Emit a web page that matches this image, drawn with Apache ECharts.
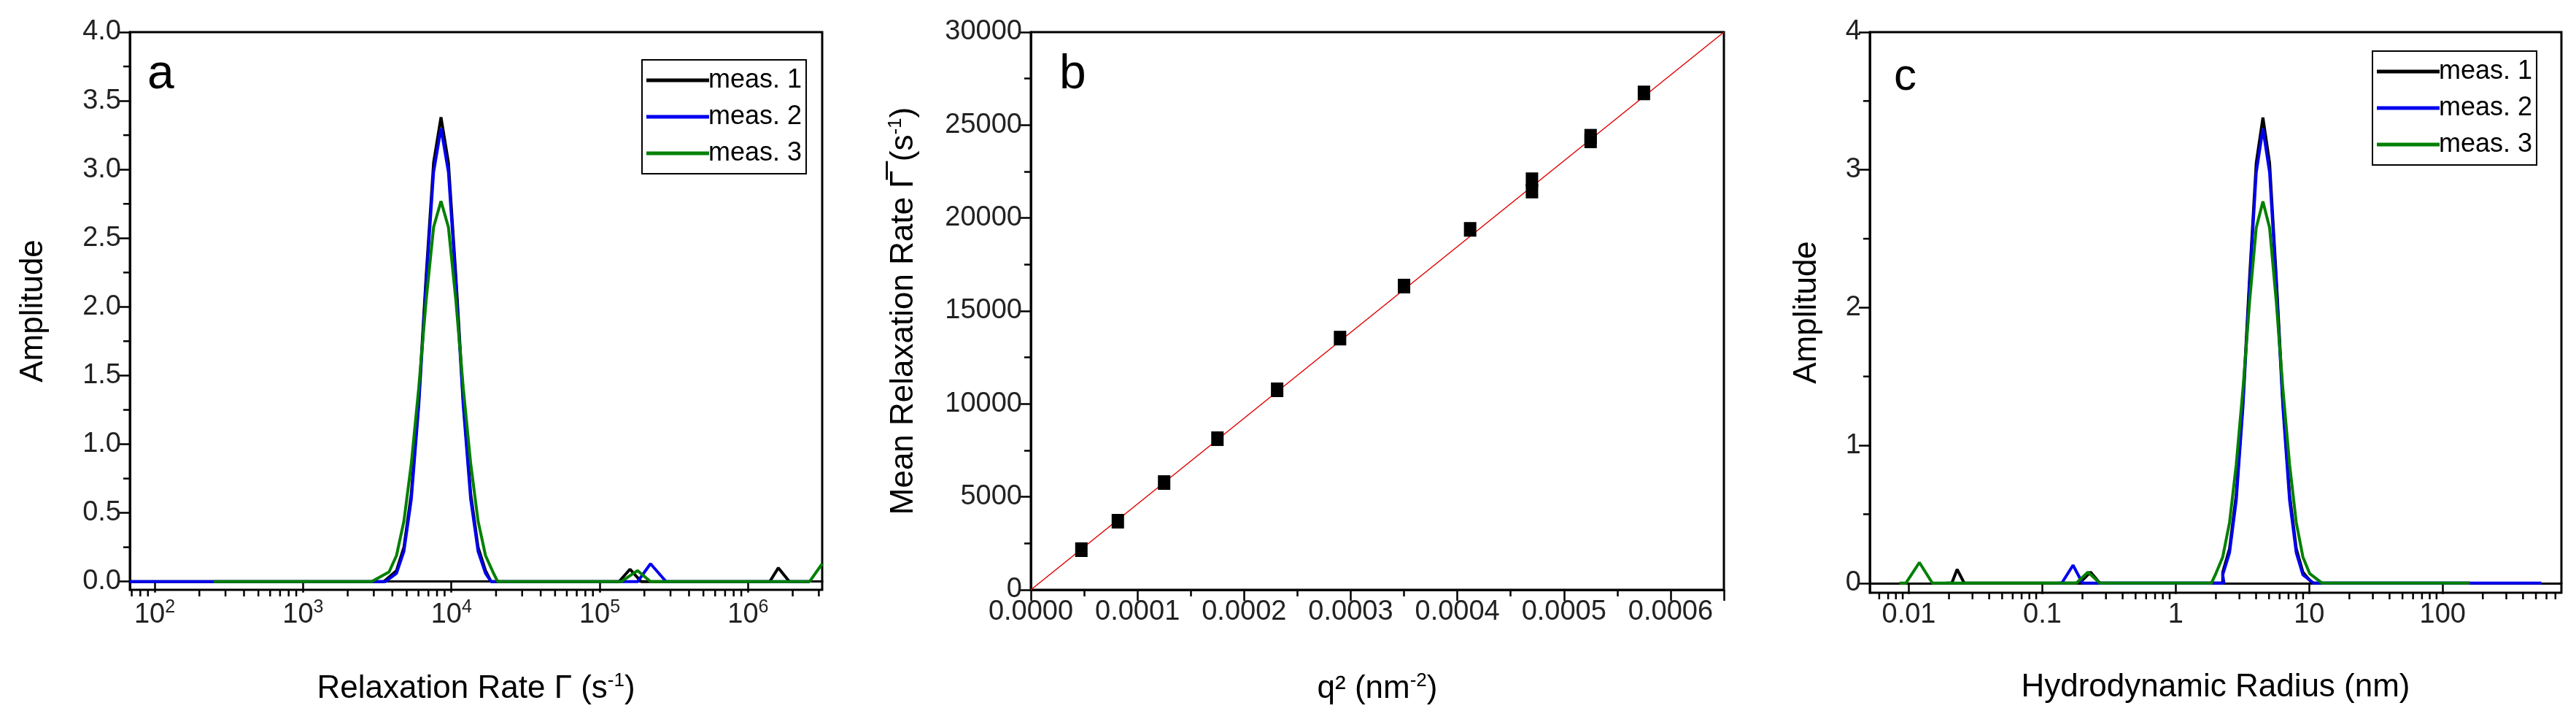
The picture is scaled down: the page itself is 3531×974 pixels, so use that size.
<!DOCTYPE html>
<html><head><meta charset="utf-8">
<script src="https://cdn.jsdelivr.net/npm/echarts@6/dist/echarts.min.js"></script>
<style>html,body{margin:0;padding:0;background:#fff}#c{width:3531px;height:974px}</style>
</head><body><div id="c"></div>
<script>
// ---- Panel a: amplitude vs relaxation rate ----
const aMeas1 = [[68,0],[3500,0],[4266,0.08],[4786,0.25],[5370,0.64],[6026,1.32],[6761,2.23],[7586,3.05],[8511,3.38],[9550,3.05],[10715,2.23],[12023,1.32],[13490,0.64],[15136,0.25],[16982,0.08],[18500,0],[135000,0],[160000,0.09],[190000,0],[1400000,0],[1600000,0.1],[1900000,0],[2600000,0]];
const aMeas2 = [[68,0],[3600,0],[4266,0.06],[4786,0.22],[5370,0.6],[6026,1.28],[6761,2.18],[7586,2.98],[8511,3.3],[9550,2.98],[10715,2.18],[12023,1.28],[13490,0.6],[15136,0.22],[16982,0.06],[18500,0],[180000,0],[220000,0.13],[280000,0],[2600000,0]];
const aMeas3 = [[250,0],[2900,0],[3802,0.07],[4266,0.19],[4786,0.44],[5370,0.86],[6026,1.41],[6761,2.05],[7586,2.58],[8511,2.77],[9550,2.58],[10715,2.05],[12023,1.41],[13490,0.86],[15136,0.44],[16982,0.19],[19055,0.07],[20500,0],[140000,0],[180000,0.08],[220000,0],[2600000,0],[3160000,0.13]];
const aXTicks = [100,1000,10000,100000,1000000];
const aYTicks = [0,0.5,1,1.5,2,2.5,3,3.5,4];
const aYMinor = [0.25,0.75,1.25,1.75,2.25,2.75,3.25,3.75];
// ---- Panel b: mean relaxation rate vs q^2 ----
const bQ2 = [0.0000474,0.0000816,0.000125,0.000175,0.000231,0.000290,0.000350,0.000412,0.000470,0.000470,0.000525,0.000525,0.000575];
const bRate = [2160,3690,5770,8130,10760,13540,16340,19390,22060,21450,24400,24150,26730];
const bFit = [[0,0],[0.00065,30000]];
// ---- Panel c: amplitude vs hydrodynamic radius ----
const cMeas1 = [[0.019,0],[0.021,0],[0.023,0.1],[0.026,0],[0.19,0],[0.23,0.08],[0.27,0],[2.25,0],[2.25,0.08],[2.53,0.25],[2.84,0.64],[3.19,1.32],[3.58,2.23],[4.01,3.05],[4.50,3.38],[5.05,3.05],[5.66,2.23],[6.35,1.32],[7.13,0.64],[8.0,0.25],[8.97,0.08],[10.5,0],[160,0]];
const cMeas2 = [[0.13,0],[0.14,0],[0.17,0.13],[0.2,0],[2.3,0],[2.25,0.06],[2.53,0.22],[2.84,0.6],[3.19,1.28],[3.58,2.18],[4.01,2.98],[4.50,3.3],[5.05,2.98],[5.66,2.18],[6.35,1.28],[7.13,0.6],[8.0,0.22],[8.97,0.06],[10.8,0],[550,0]];
const cMeas3 = [[0.0085,0],[0.0095,0],[0.012,0.15],[0.015,0],[0.18,0],[0.22,0.08],[0.27,0],[1.85,0],[2.0,0.07],[2.25,0.19],[2.53,0.44],[2.84,0.86],[3.19,1.41],[3.58,2.05],[4.01,2.58],[4.50,2.77],[5.05,2.58],[5.66,2.05],[6.35,1.41],[7.13,0.86],[8.0,0.44],[8.97,0.19],[10.07,0.07],[12.5,0],[160,0]];
const cXTicks = [0.01,0.1,1,10,100];
const cXLabels = ['0.01','0.1','1','10','100'];
const cYTicks = [0,1,2,3,4];
const cYMinor = [0.5,1.5,2.5,3.5];
const aDecades = [2,3,4,5,6];
const cDecades = [-2,-1,0,1,2];
const legendNames = ['meas. 1','meas. 2','meas. 3'];
const colors = ['#000000','#0000ee','#008000'];

const F = 'Liberation Sans, Arial, sans-serif';
const sup = {fontSize:26, verticalAlign:'top', padding:[0,0,22,0], fontFamily:F, color:'#000'};
const base = {fontFamily:F, fontSize:44, color:'#000'};

function minorTicks(decades, lo, hi){
  const arr=[];
  for (let d=decades[0]-1; d<=decades[decades.length-1]+1; d++)
    for (let m=2;m<=9;m++){ const v=m*Math.pow(10,d); if(v>lo && v<hi) arr.push(v); }
  return arr;
}
function minorX(idx, vals){
  return {type:'custom', xAxisIndex:idx, yAxisIndex:idx, silent:true, z:1, clip:false,
    data: vals.map(v=>[v]),
    renderItem:(p,api)=>{
      const x = api.coord([api.value(0), 1])[0];
      const bottom = p.coordSys.y + p.coordSys.height;
      return {type:'line', shape:{x1:x,y1:bottom,x2:x,y2:bottom+9}, style:{stroke:'#000', lineWidth:2.5}};
    }};
}
function minorY(idx, vals, xref){
  return {type:'custom', xAxisIndex:idx, yAxisIndex:idx, silent:true, z:1, clip:false,
    data: vals.map(v=>[xref, v]),
    renderItem:(p,api)=>{
      const y = api.coord([xref, api.value(1)])[1];
      const left = p.coordSys.x;
      return {type:'line', shape:{x1:left,y1:y,x2:left-9,y2:y}, style:{stroke:'#000', lineWidth:2.5}};
    }};
}
const axisLine = {lineStyle:{color:'#000', width:3}};
const tick = {inside:false, length:15, lineStyle:{color:'#000', width:2.5}};
const minor = {show:true, length:9, lineStyle:{color:'#000', width:2.5}};
const lbl = {fontFamily:F, fontSize:38, color:'#222', margin:12};

function lineSeries(idx, name, data, color){
  return {type:'line', name, xAxisIndex:idx, yAxisIndex:idx, data, showSymbol:false, symbol:'none',
    lineStyle:{color, width:4}, itemStyle:{color}, z:3};
}
function supLabel(n){ return '10{s|' + Math.round(Math.log10(n)) + '}'; }

const grids = [
  {left:178, right:3531-1127, top:44, bottom:974-808, show:true, borderColor:'#000', borderWidth:3},
  {left:1413, right:3531-2363, top:44, bottom:974-808, show:true, borderColor:'#000', borderWidth:3},
  {left:2563, right:3531-3511, top:44, bottom:974-812, show:true, borderColor:'#000', borderWidth:3}
];
const option = {
  animation:false, backgroundColor:'#fff',
  grid: grids,
  xAxis: [
    {type:'log', gridIndex:0, min:68, max:3160000, logBase:10, axisLine, axisTick:Object.assign({customValues:aXTicks}, tick), splitLine:{show:false}, minorTick:{show:false},
     axisLabel:Object.assign({}, lbl, {customValues:aXTicks, formatter:v=>supLabel(v), rich:{s:{fontSize:25, verticalAlign:'top', padding:[0,0,20,0], fontFamily:F, color:'#222'}}}),
     name:'Relaxation Rate Γ (s{s|-1})', nameLocation:'middle', nameGap:112, nameTextStyle:Object.assign({}, base, {rich:{s:sup}})},
    {type:'value', gridIndex:1, min:0, max:0.00065, interval:0.0001, axisLine, axisTick:tick, splitLine:{show:false},
     minorTick:Object.assign({splitNumber:2}, minor),
     axisLabel:Object.assign({}, lbl, {formatter:v=>v.toFixed(4), showMaxLabel:false}),
     name:'q² (nm{s|-2})', nameLocation:'middle', nameGap:112, nameTextStyle:Object.assign({}, base, {rich:{s:sup}})},
    {type:'log', gridIndex:2, min:0.0051, max:776, logBase:10, axisLine, axisTick:Object.assign({customValues:cXTicks}, tick), splitLine:{show:false}, minorTick:{show:false},
     axisLabel:Object.assign({}, lbl, {customValues:cXTicks, formatter:v=>cXLabels[Math.round(Math.log10(v))+2]}),
     name:'Hydrodynamic Radius (nm)', nameLocation:'middle', nameGap:108, nameTextStyle:base}
  ],
  yAxis: [
    {type:'value', gridIndex:0, min:-0.06, max:4, axisLine, axisTick:Object.assign({customValues:aYTicks}, tick), splitLine:{show:false},
     minorTick:{show:false},
     axisLabel:Object.assign({}, lbl, {customValues:aYTicks, formatter:v=>v.toFixed(1)}),
     name:'Amplitude', nameLocation:'middle', nameGap:110, nameTextStyle:base},
    {type:'value', gridIndex:1, min:0, max:30000, interval:5000, axisLine, axisTick:tick, splitLine:{show:false},
     minorTick:Object.assign({splitNumber:2}, minor), axisLabel:Object.assign({}, lbl, {formatter:v=>String(v)}),
     name:'Mean Relaxation Rate Γ̅ (s{s|-1})', nameLocation:'middle', nameGap:150, nameTextStyle:Object.assign({}, base, {rich:{s:sup}})},
    {type:'value', gridIndex:2, min:-0.07, max:4, axisLine, axisTick:Object.assign({customValues:cYTicks}, tick), splitLine:{show:false},
     minorTick:{show:false},
     axisLabel:Object.assign({}, lbl, {customValues:cYTicks, formatter:v=>String(v)}),
     name:'Amplitude', nameLocation:'middle', nameGap:64, nameTextStyle:base}
  ],
  legend: [
    {data:legendNames, left:880, top:82, orient:'vertical', itemWidth:86, itemHeight:5, itemGap:14, icon:'rect',
     borderColor:'#000', borderWidth:2, padding:[10,6,10,6], textStyle:{fontFamily:F, fontSize:36, color:'#000', padding:[0,0,0,-6]}},
    {data:legendNames, left:3252, top:70, orient:'vertical', itemWidth:86, itemHeight:5, itemGap:14, icon:'rect',
     borderColor:'#000', borderWidth:2, padding:[10,6,10,6], textStyle:{fontFamily:F, fontSize:36, color:'#000', padding:[0,0,0,-6]}}
  ],
  graphic: [
    {type:'text', left:202, top:70, style:{text:'a', font:'66px '+F, fill:'#000'}},
    {type:'text', left:1452, top:70, style:{text:'b', font:'66px '+F, fill:'#000'}},
    {type:'text', left:2596, top:75, style:{text:'c', font:'62px '+F, fill:'#000'}}
  ],
  series: [
    lineSeries(0, 'meas. 1', aMeas1, colors[0]),
    lineSeries(0, 'meas. 2', aMeas2, colors[1]),
    lineSeries(0, 'meas. 3', aMeas3, colors[2]),
    minorX(0, minorTicks(aDecades, 68, 3160000)),
    minorY(0, aYMinor, 1000),
    {type:'line', xAxisIndex:1, yAxisIndex:1, data:bFit, showSymbol:false, lineStyle:{color:'#e00000', width:1.5}, z:2},
    {type:'scatter', xAxisIndex:1, yAxisIndex:1, data:bQ2.map((q,i)=>[q,bRate[i]]), symbol:'rect', symbolSize:[17,20], itemStyle:{color:'#000', opacity:1}, z:3},
    lineSeries(2, 'meas. 1', cMeas1, colors[0]),
    lineSeries(2, 'meas. 2', cMeas2, colors[1]),
    lineSeries(2, 'meas. 3', cMeas3, colors[2]),
    minorX(2, minorTicks(cDecades, 0.0051, 776)),
    minorY(2, cYMinor, 1)
  ]
};
option.legend[0].data = legendNames.map((n,i)=>({name:n, itemStyle:{color:colors[i]}}));
option.legend[1].data = legendNames.map((n,i)=>({name:n, itemStyle:{color:colors[i]}}));
const chart = echarts.init(document.getElementById('c'));
chart.setOption(option);
</script></body></html>
